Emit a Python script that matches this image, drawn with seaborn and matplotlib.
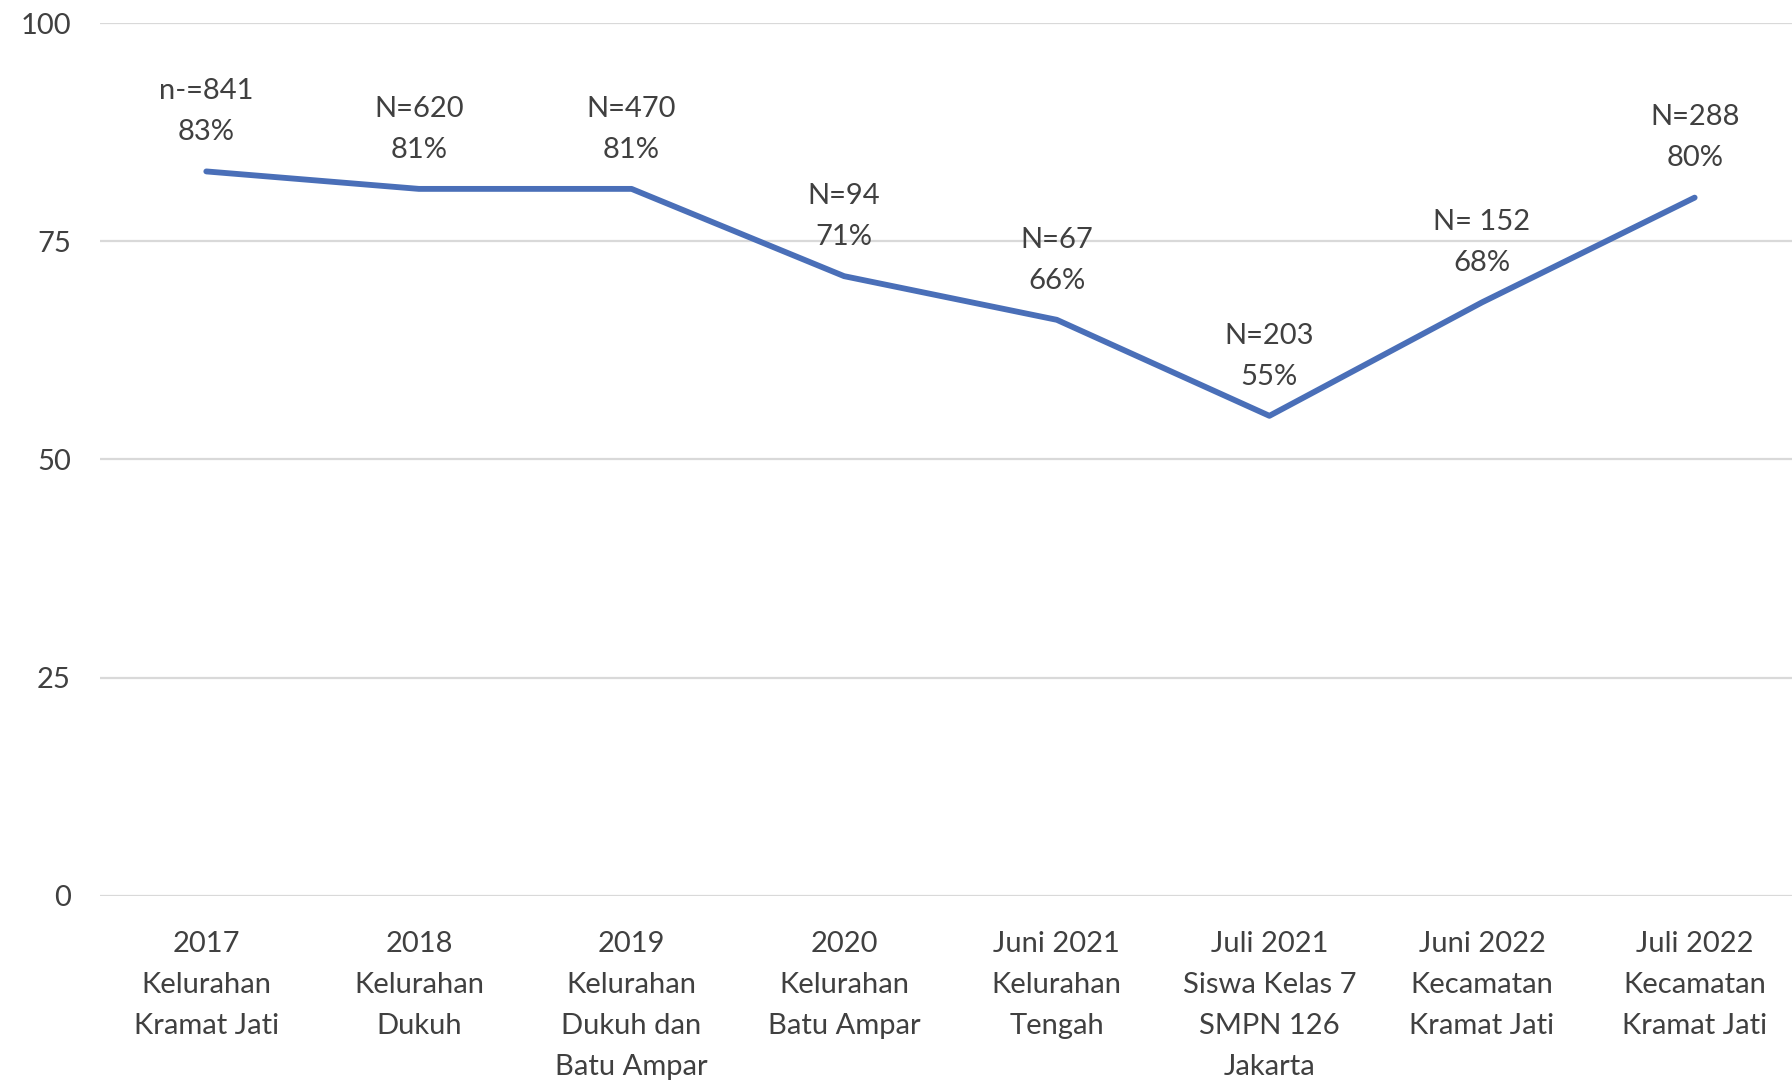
import numpy as np
import pandas as pd
import seaborn as sns
import matplotlib.pyplot as plt

# data
categories = ["2017\nKelurahan\nKramat Jati", "2018\nKelurahan\nDukuh",
              "2019\nKelurahan\nDukuh dan\nBatu Ampar", "2020\nKelurahan\nBatu Ampar",
              "Juni 2021\nKelurahan\nTengah", "Juli 2021\nSiswa Kelas 7\nSMPN 126\nJakarta",
              "Juni 2022\nKecamatan\nKramat Jati", "Juli 2022\nKecamatan\nKramat Jati"]
percent = [83, 81, 81, 71, 66, 55, 68, 80]
n_labels = ["n-=841", "N=620", "N=470", "N=94", "N=67", "N=203", "N= 152", "N=288"]
y_ticks = [0, 25, 50, 75, 100]

df = pd.DataFrame({"pos": np.arange(len(categories)), "pct": percent})

sns.set_style("white")
plt.rcParams['font.family'] = ['Lato', 'DejaVu Sans']

fig = plt.figure(figsize=(17.92, 10.82), dpi=100)
ax = fig.add_axes([0.0558, 0.172, 0.9442 + 0.005, 0.8067])

sns.lineplot(data=df, x="pos", y="pct", ax=ax, color="#4a6fb8", linewidth=4.2)

# data labels
for i, row in df.iterrows():
    ax.annotate(f"{n_labels[i]}\n{row['pct']}%", (row["pos"], row["pct"]),
                xytext=(0, 43), textcoords="offset points", ha="center", va="center",
                fontsize=21, color="#404040", linespacing=1.72)

ax.set_ylim(0, 100)
ax.set_yticks(y_ticks)
ax.set_xlim(-0.5, len(categories) - 0.5)
ax.set_xticks(df["pos"])
ax.set_xticklabels(categories, fontsize=21, color="#404040", linespacing=1.72)
ax.tick_params(axis="x", length=0, pad=25)
ax.tick_params(axis="y", length=0, pad=21, labelsize=21, labelcolor="#404040")
ax.grid(axis="y", color="#d9d9d9", linewidth=1.6)
ax.set_axisbelow(True)
for s in ax.spines.values():
    s.set_visible(False)
ax.set_xlabel("")
ax.set_ylabel("")

fig.savefig("out.png", dpi=100)
